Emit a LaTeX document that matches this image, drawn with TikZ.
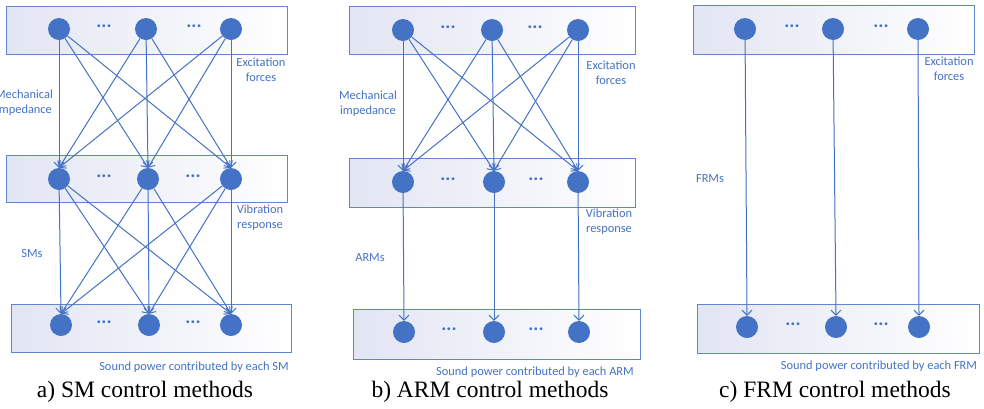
\documentclass[tikz,border=0pt]{standalone}
\usepackage{fontspec}
\setmainfont{Liberation Serif}
\newfontfamily\labelfont{Carlito}
\usetikzlibrary{arrows.meta}
\definecolor{ppt}{RGB}{68,114,196}
\definecolor{lav}{RGB}{226,229,243}
\begin{document}
\begin{tikzpicture}[x=1pt,y=-1pt,
  box/.style={draw=ppt!85, line width=1pt, left color=lav, right color=white},
  ball/.style={circle, fill=ppt, minimum size=22pt, inner sep=0pt},
  etc/.style={text=ppt, inner sep=1pt, font=\labelfont\bfseries\fontsize{19}{19}\selectfont},
  lab/.style={text=ppt, align=center, font=\labelfont\fontsize{12.4}{15}\selectfont},
  link/.style={draw=ppt, line width=1pt, -{Straight Barb[length=5pt,width=10pt]}},
  capt/.style={font=\fontsize{23.5}{26}\selectfont}]%{{{
\useasboundingbox (0,0) rectangle (984,408);
%
% a) SM
\draw[box] (6,6) rectangle (287,54);
\draw[box] (6,155) rectangle (287,202);
\draw[box] (11,304) rectangle (291,352);
\foreach \n/\x in {1/59,2/146,3/231} \node[ball] (aT\n) at (\x,29) {};
\foreach \n/\x in {1/59,2/148,3/231} \node[ball] (aM\n) at (\x,179) {};
\foreach \n/\x in {1/61,2/149,3/231} \node[ball] (aB\n) at (\x,325) {};
\foreach \n/\x/\y in {1/104/26,2/194/26,3/104/176,4/193/176,5/104/322,6/193/322}
  \node[etc] (aD\n) at (\x,\y) {...};
\foreach \i in {1,2,3} \foreach \j in {1,2,3} {
  \draw[link] (aT\i) -- (aM\j.north);
  \draw[link] (aM\i) -- (aB\j.north);
}
\node[lab] (aExc) at (261,70) {Excitation\\forces};
\node[lab] (aImp) at (24,103) {Mechanical\\impedance};
\node[lab] (aVib) at (260,218) {Vibration\\response};
\node[lab] (aSM)  at (32,254) {SMs};
\node[lab] (aSnd) at (194,367) {Sound power contributed by each SM};
\node[capt] (aCap) at (145,392) {a) SM control methods};
%
% b) ARM
\draw[box] (349,6) rectangle (635,54);
\draw[box] (349,158) rectangle (635,207);
\draw[box] (353,309) rectangle (640,359);
\foreach \n/\x in {1/403,2/492,3/578} \node[ball] (bT\n) at (\x,30) {};
\foreach \n/\x in {1/403,2/494,3/578} \node[ball] (bM\n) at (\x,182) {};
\foreach \n/\x in {1/404,2/494,3/579} \node[ball] (bB\n) at (\x,332) {};
\foreach \n/\x/\y in {1/448/27,2/535/27,3/448/179,4/536/179,5/449/329,6/536/329}
  \node[etc] (bD\n) at (\x,\y) {...};
\foreach \i in {1,2,3} {
  \foreach \j in {1,2,3} \draw[link] (bT\i) -- (bM\j.north);
  \draw[link] (bM\i) -- (bB\i.north);
}
\node[lab] (bExc) at (611,73) {Excitation\\forces};
\node[lab] (bImp) at (368,104) {Mechanical\\impedance};
\node[lab] (bVib) at (609,222) {Vibration\\response};
\node[lab] (bARM) at (370,258) {ARMs};
\node[lab] (bSnd) at (535,372) {Sound power contributed by each ARM};
\node[capt] (bCap) at (490,392) {b) ARM control methods};
%
% c) FRM
\draw[box] (693,5) rectangle (974,54);
\draw[box] (697,304) rectangle (979,353);
\foreach \n/\x in {1/745,2/833,3/918} \node[ball] (cT\n) at (\x,29) {};
\foreach \n/\x in {1/747,2/836,3/919} \node[ball] (cB\n) at (\x,327) {};
\foreach \n/\x/\y in {1/792/26,2/881/26,3/793/324,4/881/324}
  \node[etc] (cD\n) at (\x,\y) {...};
\foreach \i in {1,2,3} \draw[link] (cT\i) -- (cB\i.north);
\node[lab] (cExc) at (949,69) {Excitation\\forces};
\node[lab] (cFRM) at (710,179) {FRMs};
\node[lab] (cSnd) at (879,366) {Sound power contributed by each FRM};
\node[capt] (cCap) at (835,392) {c) FRM control methods};
%
\end{tikzpicture}
\end{document}
